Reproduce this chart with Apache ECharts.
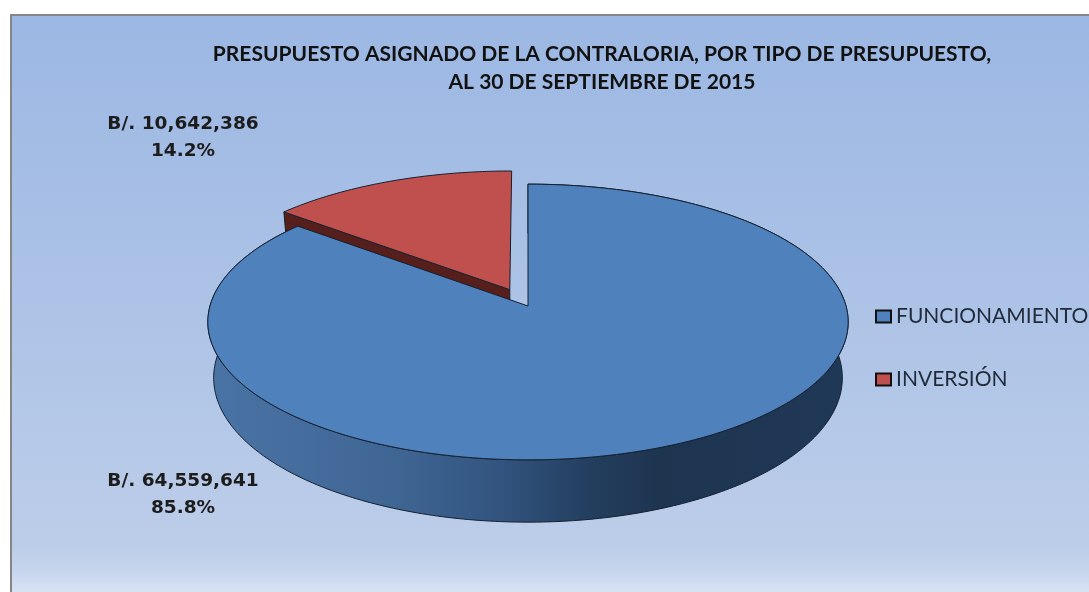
<!DOCTYPE html>
<html>
<head>
<meta charset="utf-8">
<style>
  html, body { margin: 0; padding: 0; background: #fff; }
  #chart { width: 1089px; height: 592px; }
</style>
<script src="https://cdn.jsdelivr.net/npm/echarts@6/dist/echarts.min.js"></script>
</head>
<body>
<div id="chart"></div>
<script>
// datos
const categories = ['FUNCIONAMIENTO', 'INVERSIÓN'];
const amounts = [64559641, 10642386];
const titleLines = ['PRESUPUESTO ASIGNADO DE LA CONTRALORIA, POR TIPO DE PRESUPUESTO,', 'AL 30 DE SEPTIEMBRE DE 2015'];

const total = amounts[0] + amounts[1];
const shares = amounts.map(v => v / total);

// perspectiva del disco: las elipses salen de aqui
const PERSP = 0.116;
const WALL = 0.405;      // alto de la pared, en unidades del eje y
const EXPLODE = 0.135;   // separacion de la rebanada roja
const TWO_PI = Math.PI * 2;

function project(theta, radius, shiftAngle, shift, drop) {
  const wx = radius * Math.sin(theta) + shift * Math.sin(shiftAngle);
  const wz = radius * Math.cos(theta) + shift * Math.cos(shiftAngle);
  const d = 1 + PERSP * wz;
  // la base se ve un poco mas angosta que la cara superior
  return [wx / d * (1 - 0.045 * drop), (wz - drop) / d];
}

function arcPoints(from, to, shiftAngle, shift, drop) {
  const pts = [];
  const n = Math.max(2, Math.ceil(Math.abs(to - from) / 0.015));
  for (let i = 0; i <= n; i++) {
    pts.push(project(from + (to - from) * i / n, 1, shiftAngle, shift, drop));
  }
  return pts;
}

function sliceRender(index, topColor, wallFill) {
  return function (params, api) {
    const from = index === 0 ? 0 : shares[0] * TWO_PI;
    const to = from + (api.value(0) / total) * TWO_PI;
    const mid = (from + to) / 2;
    const shift = index === 0 ? 0 : EXPLODE;
    const coord = p => api.coord(p);

    const topArc = arcPoints(from, to, mid, shift, 0);
    const bottomArc = arcPoints(from, to, mid, shift, WALL);
    const apex = project(0, 0, mid, shift, 0);
    const apexLow = project(0, 0, mid, shift, WALL);

    // pared: arco exterior y, en la roja, tambien el borde radial
    let wall = topArc.concat(bottomArc.slice().reverse());
    if (index === 1) {
      wall = [apex].concat(topArc.slice(0, 1), bottomArc.slice(0, 1), [apexLow]);
      wall = wall.concat([apex]);
    }
    const face = [apex].concat(topArc);
    const line = { stroke: '#14202e', lineWidth: 1 };

    return {
      type: 'group',
      children: [
        {
          type: 'polygon',
          shape: { points: wall.map(coord) },
          style: Object.assign({ fill: wallFill }, line)
        },
        {
          type: 'polygon',
          shape: { points: face.map(coord) },
          style: Object.assign({ fill: topColor }, line)
        }
      ]
    };
  };
}

const blueWall = new echarts.graphic.LinearGradient(0, 0, 1, 0, [
  { offset: 0, color: '#4a74a6' },
  { offset: 0.3, color: '#3f6593' },
  { offset: 0.45, color: '#335580' },
  { offset: 0.6, color: '#233e5e' },
  { offset: 0.7, color: '#1e3550' },
  { offset: 1, color: '#1f3856' }
]);

function amountLabel(i) {
  return 'B/. ' + amounts[i].toLocaleString('en-US') + '\n' + (shares[i] * 100).toFixed(1) + '%';
}

const chart = echarts.init(document.getElementById('chart'));
const labelStyle = {
  font: 'bold 18.5px "DejaVu Sans"',
  fill: '#1c1c1c',
  textAlign: 'center',
  textVerticalAlign: 'middle',
  lineHeight: 27
};

chart.setOption({
  animation: false,
  backgroundColor: '#ffffff',
  title: {
    text: titleLines.join('\n'),
    left: 597,
    top: 35,
    textAlign: 'center',
    textStyle: { fontFamily: 'Lato', fontWeight: 'bold', fontSize: 21, lineHeight: 28, color: '#111' }
  },
  legend: {
    data: categories,
    orient: 'vertical',
    left: 870,
    top: 301,
    itemWidth: 15,
    itemHeight: 12,
    itemGap: 42,
    icon: 'rect',
    textStyle: { fontFamily: 'Lato', fontSize: 21, color: '#1f2a3a' }
  },
  grid: { left: 210, top: 170, width: 636, height: 272 },
  xAxis: { type: 'value', min: -1, max: 1, show: false },
  yAxis: { type: 'value', min: -1, max: 1, show: false },
  graphic: [
    {
      type: 'rect',
      z: -10,
      silent: true,
      shape: { x: 11, y: 15, width: 1090, height: 590 },
      style: {
        stroke: '#868686',
        lineWidth: 2,
        fill: new echarts.graphic.LinearGradient(0, 0, 0, 1, [
          { offset: 0, color: '#9bb7e3' },
          { offset: 0.9, color: '#bccde9' },
          { offset: 0.94, color: '#c6d5ed' },
          { offset: 1, color: '#e3eaf6' }
        ])
      }
    },
    { type: 'text', z: 10, x: 183, y: 138, style: Object.assign({ text: amountLabel(1) }, labelStyle) },
    { type: 'text', z: 10, x: 183, y: 495, style: Object.assign({ text: amountLabel(0) }, labelStyle) }
  ],
  series: [
    // la roja va primero: el disco azul la tapa
    {
      name: categories[1],
      type: 'custom',
      coordinateSystem: 'cartesian2d',
      itemStyle: { color: '#c0504d', borderColor: '#111', borderWidth: 2 },
      renderItem: sliceRender(1, '#c0504d', '#571f1c'),
      data: [[amounts[1]]],
      encode: { x: 0 },
      clip: false,
      silent: true
    },
    {
      name: categories[0],
      type: 'custom',
      coordinateSystem: 'cartesian2d',
      itemStyle: { color: '#4f81bd', borderColor: '#111', borderWidth: 2 },
      renderItem: sliceRender(0, '#4f81bd', blueWall),
      data: [[amounts[0]]],
      encode: { x: 0 },
      clip: false,
      silent: true
    }
  ]
});
</script>
</body>
</html>
